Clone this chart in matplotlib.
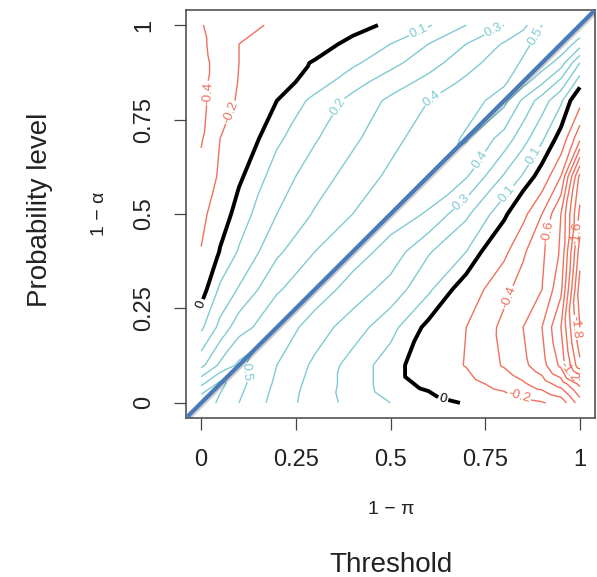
import numpy as np
import matplotlib
matplotlib.use('Agg')
import matplotlib.pyplot as plt
import matplotlib.patheffects as pe
import matplotlib.tri as mtri

plt.rcParams['font.family'] = ['Liberation Sans', 'DejaVu Sans']

# same grid on both axes (1-pi on x, 1-alpha on y)
grid = [0, 0.05, 0.1, 0.2, 0.3, 0.4, 0.5, 0.6, 0.7, 0.8, 0.85, 0.9, 0.95, 1.0]

z_y000 = [0.70, 0.57, 0.50, 0.36, 0.25, 0.17, 0.10, 0.05, -0.01, -0.09, -0.13, -0.18, -0.28, -0.70]
z_y005 = [0.48, 0.63, 0.53, 0.38, 0.26, 0.16, 0.05, -0.03, -0.13, -0.27, -0.37, -0.50, -0.68, -1.05]
z_y010 = [0.27, 0.42, 0.52, 0.40, 0.28, 0.16, 0.05, -0.08, -0.21, -0.42, -0.55, -0.72, -1.05, -1.75]
z_y020 = [0.08, 0.23, 0.36, 0.47, 0.35, 0.25, 0.135, -0.03, -0.20, -0.45, -0.60, -0.80, -1.20, -2.00]
z_y030 = [-0.05, 0.12, 0.21, 0.39, 0.46, 0.355, 0.26, 0.12, -0.07, -0.35, -0.48, -0.60, -0.95, -2.10]
z_y040 = [-0.19, 0.01, 0.11, 0.28, 0.40, 0.45, 0.36, 0.21, 0.10, -0.15, -0.37, -0.56, -0.83, -1.90]
z_y050 = [-0.26, -0.07, 0.05, 0.20, 0.31, 0.40, 0.45, 0.39, 0.22, 0.03, -0.14, -0.40, -0.80, -1.65]
z_y060 = [-0.34, -0.17, -0.02, 0.15, 0.25, 0.34, 0.42, 0.47, 0.41, 0.19, 0.09, -0.06, -0.40, -1.45]
z_y070 = [-0.42, -0.20, -0.09, 0.08, 0.19, 0.28, 0.37, 0.45, 0.51, 0.36, 0.24, 0.12, -0.05, -0.55]
z_y080 = [-0.44, -0.31, -0.17, 0.00, 0.13, 0.23, 0.32, 0.40, 0.47, 0.53, 0.38, 0.25, 0.12, -0.12]
z_y085 = [-0.44, -0.33, -0.19, -0.045, 0.045, 0.16, 0.25, 0.33, 0.42, 0.49, 0.545, 0.42, 0.27, 0.05]
z_y090 = [-0.44, -0.35, -0.20, -0.06, 0.01, 0.08, 0.17, 0.26, 0.36, 0.46, 0.51, 0.56, 0.45, 0.20]
z_y095 = [-0.43, -0.33, -0.20, -0.12, -0.05, 0.03, 0.10, 0.20, 0.30, 0.41, 0.48, 0.53, 0.58, 0.45]
z_y100 = [-0.41, -0.33, -0.26, -0.17, -0.11, -0.04, 0.02, 0.09, 0.20, 0.30, 0.37, 0.50, 0.55, 0.60]

neg_levels = [-2.0, -1.8, -1.6, -1.4, -1.2, -1.0, -0.8, -0.6, -0.4, -0.2]
pos_levels = [0.1, 0.2, 0.3, 0.4, 0.5, 0.6]
ticks = [0, 0.25, 0.5, 0.75, 1]
tick_labels = ['0', '0.25', '0.5', '0.75', '1']

RED, CYAN, BLUE, AX = '#f0705c', '#7fcbd2', '#4a7ab8', '#444444'

Z = np.array([z_y000, z_y005, z_y010, z_y020, z_y030, z_y040, z_y050,
              z_y060, z_y070, z_y080, z_y085, z_y090, z_y095, z_y100])
X, Y = np.meshgrid(grid, grid)
n = len(grid)

# split every cell along its lower-left -> upper-right diagonal so the ridge on y=x stays one band
tris = []
for i in range(n - 1):
    for j in range(n - 1):
        bl, br, tl, tr = i * n + j, i * n + j + 1, (i + 1) * n + j, (i + 1) * n + j + 1
        tris += [[bl, br, tr], [bl, tr, tl]]
tri = mtri.Triangulation(X.ravel(), Y.ravel(), np.array(tris))
zz = Z.ravel()

fig = plt.figure(figsize=(5.97, 5.77), dpi=100)
ax = fig.add_axes([186 / 597, (577 - 418) / 577, (595 - 186) / 597, (418 - 10) / 577])

fmt = lambda v: f'{v:g}'
cn = ax.tricontour(tri, zz, levels=neg_levels, colors=RED, linewidths=1.0, linestyles='solid')
c0 = ax.tricontour(tri, zz, levels=[0], colors='black', linewidths=2.8, linestyles='solid')
cp = ax.tricontour(tri, zz, levels=pos_levels, colors=CYAN, linewidths=1.0, linestyles='solid')

# label spots roughly where R put them
ax.clabel(cn, fmt=fmt, fontsize=9.5, inline_spacing=2,
          manual=[(0.01, 0.82), (0.075, 0.77), (0.93, 0.45), (0.81, 0.28),
                  (0.84, 0.02), (0.97, 0.08), (0.99, 0.2), (0.99, 0.45)])
ax.clabel(c0, fmt=fmt, fontsize=9.5, inline_spacing=2,
          manual=[(0.005, 0.255), (0.64, 0.015)])
ax.clabel(cp, fmt=fmt, fontsize=9.5, inline_spacing=2,
          manual=[(0.37, 0.78), (0.58, 0.97), (0.78, 0.97), (0.9, 0.96),
                  (0.6, 0.82), (0.74, 0.64), (0.87, 0.66), (0.68, 0.54),
                  (0.80, 0.56), (0.11, 0.08)])

ax.axline((0, 0), (1, 1), color=BLUE, lw=3.0, zorder=5,
          path_effects=[pe.SimpleLineShadow(offset=(1, -1), alpha=0.2), pe.Normal()])

ax.set_xlim(-0.04, 1.04)
ax.set_ylim(-0.04, 1.04)
ax.set_xticks(ticks)
ax.set_xticklabels(tick_labels)
ax.set_yticks(ticks)
ax.set_yticklabels(tick_labels, rotation=90, va='center')
ax.tick_params(length=8.5, width=0.9, color=AX, labelsize=17, pad=14, labelcolor='#222222')
for s in ax.spines.values():
    s.set_color(AX)
    s.set_linewidth(1.1)

fig.text(391 / 597, 1 - 510 / 577, '1 \u2212 \u03c0', ha='center', va='center', fontsize=14, color='#222222')
fig.text(391 / 597, 1 - 565 / 577, 'Threshold', ha='center', va='center', fontsize=20, color='#222222')
fig.text(99 / 597, 1 - 214 / 577, '1 \u2212 \u03b1', ha='center', va='center', rotation=90, fontsize=14, color='#222222')
fig.text(40 / 597, 1 - 210 / 577, 'Probability level', ha='center', va='center', rotation=90, fontsize=20, color='#222222')

fig.savefig('out.png', dpi=100)
